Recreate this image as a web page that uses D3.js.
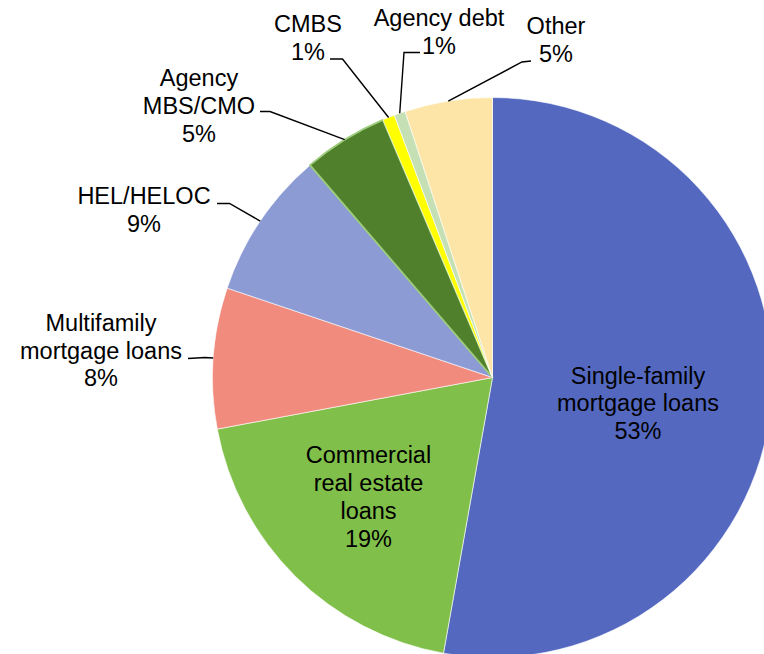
<!DOCTYPE html>
<html>
<head>
<meta charset="utf-8">
<script src="https://cdn.jsdelivr.net/npm/d3@7"></script>
<style>
  html, body { margin: 0; padding: 0; background: #ffffff; }
  svg { display: block; }
  text { font-family: Arial, "Liberation Sans", sans-serif; font-size: 23.5px; fill: #000; }
</style>
</head>
<body>
<svg id="chart" width="764" height="654"></svg>
<script>
// Portfolio composition (share of total, %)
const categories = [
  "Single-family mortgage loans",
  "Commercial real estate loans",
  "Multifamily mortgage loans",
  "HEL/HELOC",
  "Agency MBS/CMO",
  "CMBS",
  "Agency debt",
  "Other"
];
const values = [52.8, 19.25, 8.12, 8.53, 4.9, 0.7, 0.65, 5.05];

// Label text, split into lines (percentage line appended from the value)
const labelLines = [
  ["Single-family", "mortgage loans"],
  ["Commercial", "real estate", "loans"],
  ["Multifamily", "mortgage loans"],
  ["HEL/HELOC"],
  ["Agency", "MBS/CMO"],
  ["CMBS"],
  ["Agency debt"],
  ["Other"]
];

const colors = ["#5468C0", "#80BF4A", "#F18B7D", "#8D9BD5", "#50802C", "#FFFF00", "#C5E0B4", "#FCE5A6"];

// Label placement: text centre x, first baseline y, and leader elbow points (outside labels)
const labelLayout = [
  { x: 638, y: 383.5, leader: null },
  { x: 368.5, y: 463.3, leader: null },
  { x: 101, y: 330.7, leader: [[188, 358.5], [205, 357.5]] },
  { x: 144, y: 204, leader: [[217, 203.5], [229.5, 203.5]] },
  { x: 199, y: 86, leader: [[260, 111.5], [270, 111.5]] },
  { x: 308, y: 32, leader: [[330, 59], [342.5, 59]] },
  { x: 439, y: 26, leader: [[420, 52.5], [404, 52.5]] },
  { x: 556, y: 34, leader: [[531, 61], [522, 62]] }
];

const lineGap = 27.8;
const cx = 492.5, cy = 377.5, radius = 280;

const svg = d3.select("#chart");
const g = svg.append("g").attr("transform", `translate(${cx},${cy})`);

const total = d3.sum(values);
const data = categories.map((c, i) => ({ name: c, value: values[i], i }));

const pie = d3.pie().sort(null).value(d => d.value).startAngle(0).endAngle(2 * Math.PI);
const arcs = pie(data);
const arc = d3.arc().innerRadius(0).outerRadius(radius);

g.selectAll("path.slice")
  .data(arcs)
  .enter().append("path")
  .attr("class", "slice")
  .attr("d", arc)
  .attr("fill", d => colors[d.data.i])
  .attr("stroke", d => d.data.i === 4 ? "#9ccc7c" : "#ffffff")
  .attr("stroke-width", d => d.data.i === 4 ? 1.8 : 0.6)
  .attr("stroke-linejoin", "round");

// Leader lines: from label elbow to the slice's mid-angle point on the rim
const edgePoint = d => {
  const a = (d.startAngle + d.endAngle) / 2;
  return [cx + radius * Math.sin(a), cy - radius * Math.cos(a)];
};

const lineGen = d3.line();
svg.selectAll("path.leader")
  .data(arcs.filter(d => labelLayout[d.data.i].leader))
  .enter().append("path")
  .attr("class", "leader")
  .attr("d", d => lineGen(labelLayout[d.data.i].leader.concat([edgePoint(d)])))
  .attr("fill", "none")
  .attr("stroke", "#000")
  .attr("stroke-width", 1.4);

const pct = v => Math.round(v / total * 100) + "%";

const labels = svg.selectAll("text.lbl")
  .data(arcs)
  .enter().append("text")
  .attr("class", "lbl")
  .attr("text-anchor", "middle")
  .attr("x", d => labelLayout[d.data.i].x)
  .attr("y", d => labelLayout[d.data.i].y);

labels.each(function(d) {
  const t = d3.select(this);
  const lines = labelLines[d.data.i].concat([pct(d.data.value)]);
  lines.forEach((ln, k) => {
    t.append("tspan")
      .attr("x", labelLayout[d.data.i].x)
      .attr("y", labelLayout[d.data.i].y + k * lineGap)
      .text(ln);
  });
});
</script>
</body>
</html>
